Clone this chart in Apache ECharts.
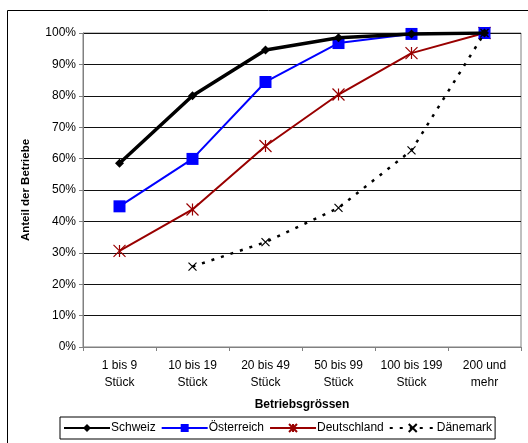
<!DOCTYPE html>
<html><head><meta charset="utf-8">
<script src="https://cdn.jsdelivr.net/npm/echarts@6/dist/echarts.min.js"></script>
<style>html,body{margin:0;padding:0;background:#fff}#c{width:528px;height:443px}</style>
</head><body><div id="c"></div>
<script>
const categories = ['1 bis 9\nStück','10 bis 19\nStück','20 bis 49\nStück','50 bis 99\nStück','100 bis 199\nStück','200 und\nmehr'];
const schweiz = [58.5, 80, 94.6, 98.5, 99.7, 100];
const oesterreich = [44.8, 59.9, 84.4, 96.8, 99.7, 100];
const deutschland = [30.6, 43.8, 64, 80.4, 93.6, 100];
const daenemark = [null, 25.6, 33.4, 44.3, 62.6, 100];
const yTicks = [0,10,20,30,40,50,60,70,80,90,100];

const font = 'Liberation Sans, Arial, sans-serif';
const chart = echarts.init(document.getElementById('c'), null, {renderer:'canvas'});
chart.setOption({
  animation:false,
  backgroundColor:'#fff',
  textStyle:{fontFamily:font},
  graphic:[{type:'rect', shape:{x:7.5,y:10.5,width:600,height:600}, style:{fill:'none', stroke:'#000', lineWidth:1}, silent:true, z:-1}],
  grid:{left:83, right:7, top:33, bottom:96, show:true, borderColor:'#808080', borderWidth:1, backgroundColor:'transparent'},
  legend:{
    left:60, top:417, width:460, padding:[5,3,5,3], itemGap:5,
    borderColor:'#000', borderWidth:1, backgroundColor:'#fff',
    itemWidth:46, itemHeight:10,
    textStyle:{fontFamily:font, fontSize:12, color:'#000', padding:[0,0,0,-4]},
    data:['Schweiz','Österreich','Deutschland','Dänemark']
  },
  xAxis:{
    type:'category', data:categories, boundaryGap:true,
    name:'Betriebsgrössen', nameLocation:'middle', nameGap:52,
    nameTextStyle:{fontFamily:font, fontSize:12, fontWeight:'bold', color:'#000'},
    axisLine:{lineStyle:{color:'#808080', width:1}},
    axisTick:{show:true, length:4, lineStyle:{color:'#808080'}},
    axisLabel:{fontFamily:font, fontSize:12, color:'#000', lineHeight:17, margin:10, interval:0}
  },
  yAxis:{
    type:'value', min:0, max:100, interval:10,
    name:'Anteil der Betriebe', nameLocation:'middle', nameGap:51, nameRotate:90,
    nameTextStyle:{fontFamily:font, fontSize:11.5, fontWeight:'bold', color:'#000'},
    axisLine:{show:true, lineStyle:{color:'#808080'}},
    axisTick:{show:true, length:4, lineStyle:{color:'#808080'}},
    axisLabel:{fontFamily:font, fontSize:12, color:'#000', margin:7, formatter:v=>v+'%'},
    splitLine:{lineStyle:{color:'#111', width:1}}
  },
  series:[
    {name:'Schweiz', type:'line', data:schweiz, symbol:'diamond', symbolSize:9,
     lineStyle:{color:'#000', width:3.5}, itemStyle:{color:'#000'}, z:5},
    {name:'Österreich', type:'line', data:oesterreich, symbol:'rect', symbolSize:12,
     lineStyle:{color:'#0000ff', width:2}, itemStyle:{color:'#0000ff'}, z:4},
    {name:'Deutschland', type:'line', data:deutschland,
     symbol:'path://M0,0L10,10M10,0L0,10M5,0L5,10', symbolSize:12, symbolKeepAspect:true,
     lineStyle:{color:'#990000', width:2}, itemStyle:{color:'#990000', borderColor:'#990000', borderWidth:1.2}, z:3},
    {name:'Dänemark', type:'line', data:daenemark, connectNulls:false,
     symbol:'path://M0,0L10,10M10,0L0,10', symbolSize:8,
     lineStyle:{color:'#000', width:2.5, type:[3,7]}, itemStyle:{color:'#000', borderColor:'#000', borderWidth:1.2}, z:6}
  ]
});
</script></body></html>
